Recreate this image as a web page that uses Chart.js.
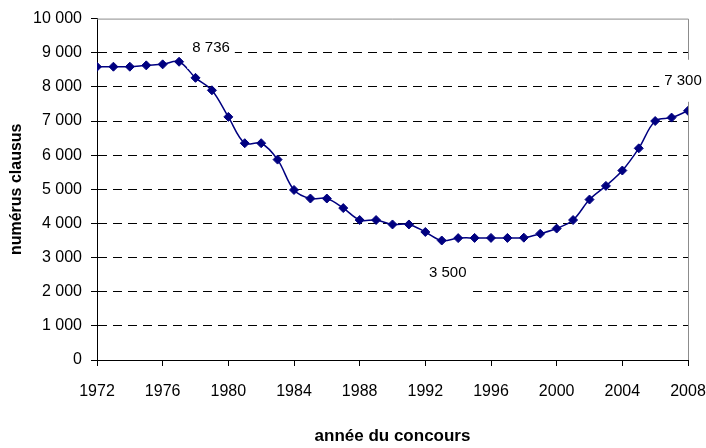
<!DOCTYPE html>
<html lang="fr">
<head>
    <meta charset="utf-8">
    <title>Numérus clausus</title>
    <style>
        body {
            margin: 0;
            background: white;
        }
        #chart {
            display: block;
        }
    </style>
</head>
<body>
    <canvas id="chart" width="706" height="448"></canvas>

    <script src="https://cdn.jsdelivr.net/npm/chart.js@4.4.1/dist/chart.umd.min.js"></script>
    <script>
        const years = [1972, 1973, 1974, 1975, 1976, 1977, 1978, 1979, 1980, 1981, 1982, 1983,
            1984, 1985, 1986, 1987, 1988, 1989, 1990, 1991, 1992, 1993, 1994, 1995, 1996, 1997,
            1998, 1999, 2000, 2001, 2002, 2003, 2004, 2005, 2006, 2007, 2008];
        const numerus = [8588, 8591, 8591, 8630, 8660, 8736, 8265, 7900, 7121, 6350, 6350, 5870,
            4980, 4730, 4730, 4450, 4100, 4100, 3970, 3970, 3750, 3500, 3570, 3576, 3576, 3576,
            3583, 3700, 3850, 4100, 4700, 5100, 5550, 6200, 7000, 7100, 7300];
        // points that carry a value label, with the label offset from the point
        const labelled = [
            { year: 1977, dx: 32, dy: -14 },
            { year: 1993, dx: 6, dy: 32 },
            { year: 2008, dx: -5, dy: -30 }
        ];

        const FONT = "'Liberation Sans', Arial, sans-serif";
        const fmt = (v) => String(v).replace(/\B(?=(\d{3})+(?!\d))/g, " ");

        const frame = {
            id: "frame",
            beforeDatasetsDraw(chart) {
                const { ctx, chartArea: a } = chart;
                ctx.save();
                ctx.strokeStyle = "#8c8c8c";
                ctx.lineWidth = 1;
                ctx.beginPath();
                ctx.moveTo(a.left, a.top + 0.5);
                ctx.lineTo(a.right + 0.5, a.top + 0.5);
                ctx.lineTo(a.right + 0.5, a.bottom);
                ctx.stroke();
                ctx.restore();
            }
        };

        const valueLabels = {
            id: "valueLabels",
            afterDraw(chart) {
                const { ctx } = chart;
                const meta = chart.getDatasetMeta(0);
                ctx.save();
                ctx.font = "15px " + FONT;
                ctx.textAlign = "center";
                ctx.textBaseline = "middle";
                for (const l of labelled) {
                    const i = years.indexOf(l.year);
                    const pt = meta.data[i];
                    const text = fmt(numerus[i]);
                    const cx = pt.x + l.dx;
                    const cy = pt.y + l.dy;
                    const w = ctx.measureText(text).width;
                    ctx.fillStyle = "white";
                    ctx.fillRect(cx - w / 2 - 5, cy - 21, w + 10, 42);
                    ctx.fillStyle = "#000";
                    ctx.fillText(text, cx, cy);
                }
                ctx.restore();
            }
        };

        new Chart(document.getElementById("chart"), {
            type: "line",
            data: {
                datasets: [{
                    data: years.map((y, i) => ({ x: y, y: numerus[i] })),
                    borderColor: "#000080",
                    backgroundColor: "#000080",
                    borderWidth: 1.5,
                    tension: 0.35,
                    pointStyle: "rectRot",
                    pointRadius: 4.5,
                    pointBorderWidth: 1,
                    pointBorderColor: "#000080",
                    pointBackgroundColor: "#000080"
                }]
            },
            plugins: [frame, valueLabels],
            options: {
                responsive: false,
                devicePixelRatio: 1,
                animation: false,
                layout: { padding: { top: 17, right: 18, left: 0, bottom: 0 } },
                plugins: {
                    legend: { display: false },
                    tooltip: { enabled: false }
                },
                scales: {
                    x: {
                        type: "linear",
                        min: 1972,
                        max: 2008,
                        afterFit: (scale) => {
                            scale.height = 88;
                            scale.paddingLeft = 0;
                            scale.paddingRight = 0;
                        },
                        ticks: {
                            stepSize: 4,
                            color: "#000",
                            padding: 16,
                            maxRotation: 0,
                            font: { family: FONT, size: 16 },
                            callback: (v) => String(v)
                        },
                        grid: {
                            drawOnChartArea: false,
                            tickLength: 6,
                            tickColor: "#000"
                        },
                        border: { color: "#000", width: 1 },
                        title: {
                            display: true,
                            text: "année du concours",
                            color: "#000",
                            font: { family: FONT, size: 17, weight: "bold" },
                            padding: { top: 0, bottom: 1 }
                        }
                    },
                    y: {
                        min: 0,
                        max: 10000,
                        afterFit: (scale) => { scale.width = 97; },
                        ticks: {
                            stepSize: 1000,
                            color: "#000",
                            padding: 9,
                            font: { family: FONT, size: 16 },
                            callback: (v) => fmt(v)
                        },
                        grid: {
                            color: (c) => (c.tick && (c.tick.value === 0 || c.tick.value === 10000)) ? "rgba(0,0,0,0)" : "#000",
                            lineWidth: 1,
                            tickLength: 6,
                            tickColor: "#000",
                            tickBorderDash: []
                        },
                        border: {
                            color: "#000",
                            width: 1,
                            dash: (c) => c.type === "tick" ? [9, 6] : []
                        },
                        title: {
                            display: true,
                            text: "numérus clausus",
                            color: "#000",
                            font: { family: FONT, size: 16, weight: "bold" },
                            padding: { top: 7, bottom: 0 }
                        }
                    }
                }
            }
        });
    </script>
</body>
</html>
